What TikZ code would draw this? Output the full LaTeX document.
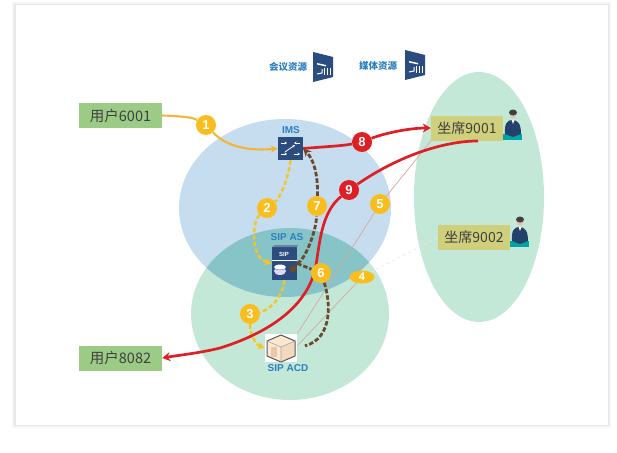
\documentclass[tikz,border=0pt]{standalone}
\usepackage{fontspec}
\setmainfont{Noto Sans CJK SC}
\newfontfamily\latinsf{Liberation Sans}
\usetikzlibrary{arrows.meta,calc,shapes.geometric}
\pgfdeclarelayer{bg}\pgfdeclarelayer{mid}
\pgfsetlayers{bg,mid,main}
\definecolor{navy}{HTML}{2B4C7E}
\definecolor{blueregion}{HTML}{C6DCEF}
\definecolor{greenregion}{HTML}{C4E8D8}
\definecolor{tealregion}{HTML}{86C4C8}
\definecolor{labelblue}{HTML}{2C7FC0}
\definecolor{gold}{HTML}{F9BE1E}
\definecolor{dashgold}{HTML}{F5C521}
\definecolor{solidgold}{HTML}{F2B632}
\definecolor{umber}{HTML}{6B4A2B}
\definecolor{alarm}{HTML}{DE1F26}
\definecolor{usergreen}{HTML}{9CCB86}
\definecolor{seatgold}{HTML}{CFCF7C}
\definecolor{thinrose}{HTML}{D8A8A0}
\tikzset{
  x=1pt,y=-1pt,
  userbox/.style={fill=usergreen,minimum width=83pt,minimum height=25pt,inner sep=0pt,text=black!75,font=\fontsize{14.5}{16}\selectfont},
  seatbox/.style={fill=seatgold,minimum width=72pt,minimum height=25pt,inner sep=0pt,text=black!75,font=\fontsize{14}{16}\selectfont},
  badge/.style={circle,fill=gold,minimum size=20pt,inner sep=0pt,text=white,font=\latinsf\bfseries\fontsize{13}{15}\selectfont},
  redbadge/.style={circle,fill=alarm,minimum size=20pt,inner sep=0pt,text=white,font=\latinsf\bfseries\fontsize{13}{15}\selectfont},
  ovalbadge/.style={ellipse,fill=gold,minimum width=25pt,minimum height=13pt,inner sep=0pt,text=white,font=\latinsf\bfseries\fontsize{11}{13}\selectfont},
  restext/.style={text=labelblue,font=\bfseries\fontsize{9.5}{11}\selectfont,inner sep=0pt},
  iconlabel/.style={text=labelblue,font=\latinsf\bfseries\fontsize{10}{12}\selectfont,inner sep=0pt},
  iconbox/.style={fill=navy,inner sep=0pt},
  goldsolid/.style={draw=solidgold,line width=2.1pt},
  golddash/.style={draw=dashgold,line width=2.4pt,dash pattern=on 4.5pt off 2.5pt},
  browndash/.style={draw=umber,line width=2.8pt,dash pattern=on 4.5pt off 2pt},
  redline/.style={draw=alarm,line width=2.7pt},
  thinline/.style={draw=thinrose,line width=0.7pt},
  tipgold/.style={-{Stealth[length=7pt,width=7pt]}},
  tipbrown/.style={-{Stealth[length=8pt,width=8pt]}},
  tipred/.style={-{Stealth[length=8pt,width=9pt]}},
}
\newcommand{\serverglyph}[2]{%
  \fill[navy] (#1,#2) -- ++(20,5) -- ++(0,20) -- ++(-20,5) -- cycle;
  \fill[white] (#1+4,#2+11) -- ++(9,2) -- ++(0,1.5) -- ++(-9,-2) -- cycle;
  \draw[white,line width=1pt] (#1+11,#2+16) -- ++(0,7) (#1+14,#2+16) -- ++(0,7) (#1+17,#2+16) -- ++(0,7);
  \draw[white,line width=1pt] (#1+4,#2+22) -- ++(5,-1) -- ++(0,-4);
}
\newcommand{\agentglyph}[2]{%
  \fill[teal!70!cyan] (#1,#2+27) rectangle ++(19,6);
  \fill[navy!85!black] (#1+2,#2+27) .. controls (#1+1,#2+16) and (#1+5,#2+13) .. (#1+9,#2+13) .. controls (#1+15,#2+13) and (#1+18,#2+17) .. (#1+18,#2+27) -- (#1+10,#2+30) -- cycle;
  \fill[black!10!brown!40!white] (#1+10,#2+8) circle (3.6pt);
  \fill[black!75] (#1+10,#2+5.5) ellipse (4pt and 3pt);
  \fill[white] (#1+8.5,#2+13) -- (#1+11.5,#2+13) -- (#1+10,#2+17) -- cycle;
}
\begin{document}
\begin{tikzpicture}
\useasboundingbox (0,0) rectangle (617,452);
\begin{pgfonlayer}{bg}
  \fill[white] (0,0) rectangle (617,452);
  \foreach \o/\w in {0.10/6,0.12/4,0.14/2}
    \draw[black!25,opacity=\o,line width=\w pt] (15,5) rectangle (608,425);
  \fill[white] (15.5,5.5) rectangle (607.5,424.5);
  \fill[greenregion] (479,197) ellipse (65pt and 125pt);
  \fill[greenregion] (290,314) ellipse (99pt and 86pt);
  \fill[blueregion] (285,208) ellipse (106pt and 89pt);
  \begin{scope}
    \clip (290,314) ellipse (99pt and 86pt);
    \fill[tealregion] (285,208) ellipse (106pt and 89pt);
  \end{scope}
\end{pgfonlayer}

\node[userbox] (u6001) at (120.5,115.5) {用户6001};
\node[userbox] (u8082) at (120.5,358) {用户8082};
\node[seatbox] (s9001) at (467,128) {坐席9001};
\node[seatbox] (s9002) at (474,237.5) {坐席9002};

\node[restext] (hui) at (288,67) {会议资源};
\node[restext] (mei) at (378,66) {媒体资源};
\serverglyph{313}{52}
\serverglyph{405}{50}
\node[iconlabel] (imstext) at (291,130) {IMS};
\node[iconlabel] (astext) at (287,237) {SIP AS};
\node[iconlabel] (acdtext) at (288,368) {SIP ACD};

% IMS icon
\node[iconbox,minimum width=25pt,minimum height=23pt] (ims) at (290.5,148.5) {};
\draw[white,line width=1pt,-{Stealth[length=2.5pt,width=2.5pt]}] (281,143) -- (287,143);
\draw[white,line width=1pt,-{Stealth[length=2.5pt,width=2.5pt]}] (300,143) -- (294,143);
\draw[white,line width=1pt,-{Stealth[length=2.5pt,width=2.5pt]}] (281,154) -- (287,154);
\draw[white,line width=1pt,-{Stealth[length=2.5pt,width=2.5pt]}] (294,154) -- (300,154);
\draw[white,line width=0.8pt,-{Stealth[length=2.5pt,width=2.5pt]}] (285,152) -- (295,145);

% SIP AS icon
\node[iconbox,minimum width=25pt,minimum height=33pt] (as) at (284.5,263.5) {};
\fill[navy!70!white] (272,247) -- (275,245) -- (298,245) -- (297,247) -- cycle;
\node[text=white,font=\latinsf\bfseries\fontsize{6}{7}\selectfont,inner sep=0pt] (astag) at (284,254) {SIP};
\fill[white] (272,260) rectangle (297,261);
\fill[white!85!blue] (280,271) ellipse (6pt and 4pt);
\fill[navy!60!white] (280,268) ellipse (6pt and 2pt);
\fill[white] (280,267) ellipse (6pt and 2.4pt);
\fill[umber] (293,269) circle (3.5pt);

% SIP ACD icon
\node[fill=white,minimum width=32pt,minimum height=28pt,inner sep=0pt] (acd) at (281,348) {};
\fill[black!5!orange!18!white] (267,341) -- (281,335) -- (295,341) -- (295,356) -- (281,362) -- (267,356) -- cycle;
\fill[black!20!orange!25!white] (281,347) -- (295,341) -- (295,356) -- (281,362) -- cycle;
\draw[black!65,line width=1pt,line join=round] (267,341) -- (281,335) -- (295,341) -- (295,356) -- (281,362) -- (267,356) -- cycle;
\draw[black!35,line width=0.6pt] (267,341) -- (281,347) -- (295,341) (281,347) -- (281,362);
\fill[black!25!orange!35!white] (271,347) rectangle (277,357);

\agentglyph{503}{107}
\agentglyph{510}{214}

\node[badge] (n1) at (206,125) {1};
\node[badge] (n2) at (267,208) {2};
\node[badge] (n3) at (250,314) {3};
\node[ovalbadge] (n4) at (362,277) {4};
\node[badge] (n5) at (380,204) {5};
\node[badge] (n6) at (321,273) {6};
\node[badge] (n7) at (317,206) {7};
\node[redbadge] (n8) at (362,142) {8};
\node[redbadge] (n9) at (349,190) {9};

\begin{pgfonlayer}{mid}
  % thin links
  \draw[thinline] (acd.north east) -- (n5) -- ($(s9001.south west)+(2,-2)$);
  \draw[thinline] ($(acd.east)+(0,-2)$) -- (n4);
  \draw[draw=white!70!thinrose,line width=0.7pt,dashed] (n4) -- (s9002.west);
  % 1
  \draw[goldsolid] (u6001.east) .. controls (178,116) and (192,117) .. (n1);
  \draw[goldsolid,tipgold] (n1) .. controls (222,142) and (240,152) .. (ims.west);
  % 2
  \draw[golddash] (ims.south) .. controls (288,180) and (280,198) .. (n2);
  \draw[golddash,tipgold] (n2) .. controls (252,222) and (250,258) .. (as.west);
  % 3
  \draw[golddash] (as.south) .. controls (282,298) and (270,310) .. (n3);
  \draw[golddash,tipgold] (n3) .. controls (250,332) and (254,344) .. (acd.west);
  % 7
  \draw[browndash] (as.east) .. controls (305,260) and (316,232) .. (n7);
  % 6
  \draw[browndash] (as.east) -- (n6);
  \draw[browndash,shorten >=8pt] (n6) .. controls (330,300) and (334,338) .. (acd.east);
  % 8
  \draw[redline] (ims.east) .. controls (320,147) and (342,146) .. (n8);
  \draw[redline,tipred] (n8) .. controls (385,133) and (410,128) .. (s9001.west);
  % 7 upper
  \draw[browndash,tipbrown] (n7) .. controls (318,182) and (316,162) .. (ims.east);
  % 9 lower
  \draw[redline,tipred] (n9) .. controls (322,212) and (320,240) .. (316,265) .. controls (308,310) and (262,335) .. (220,348) .. controls (200,353) and (180,355) .. (u8082.east);
\end{pgfonlayer}
% 9 upper runs along the seat box's lower edge, in front of it
\coordinate (seatend) at (478,141);
\draw[redline] (seatend) .. controls (445,141) and (400,155) .. (n9);
\end{tikzpicture}
\end{document}
